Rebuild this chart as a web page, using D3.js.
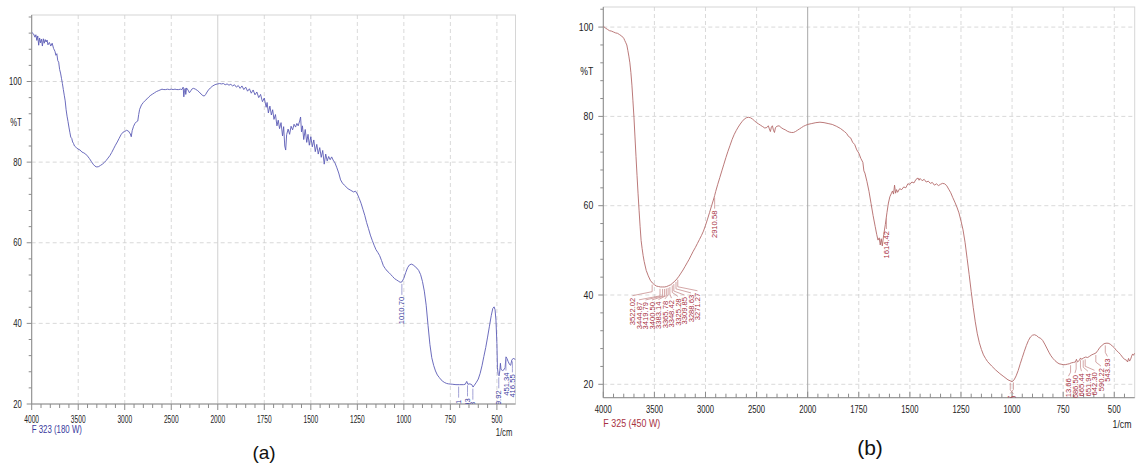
<!DOCTYPE html>
<html>
<head>
<meta charset="utf-8">
<script src="https://cdn.jsdelivr.net/npm/d3@7"></script>
<style>
  body { margin: 0; background: #fff; }
  svg { display: block; }
  text { font-family: "Liberation Sans", Arial, sans-serif; }
</style>
</head>
<body>
<svg id="chart" width="1136" height="468"></svg>
<script>
// Axis ticks shared by both spectra (wavenumber axis is split at 2000 1/cm)
const xTicks = [4000, 3500, 3000, 2500, 2000, 1750, 1500, 1250, 1000, 750, 500];
const yTicks = [20, 40, 60, 80, 100];

// Spectrum (a): [wavenumber, %T]
const spectrumA = [
    [4000, 112.2], [3980, 111.8], [3965, 111.0], [3955, 111.6], [3945, 110.2], [3935, 111.3],
    [3925, 109.0], [3915, 110.8], [3905, 109.6], [3895, 110.5], [3885, 108.8], [3875, 110.6],
    [3865, 109.5], [3855, 110.4], [3845, 109.8], [3835, 110.3], [3825, 109.1], [3810, 109.7],
    [3795, 108.8], [3780, 109.5], [3765, 108.2], [3750, 107.5], [3740, 106.5], [3730, 106.9],
    [3720, 105.2], [3710, 104.8], [3700, 103.0], [3690, 102.1], [3680, 100.8], [3670, 99.5],
    [3660, 98.0], [3650, 96.6], [3640, 95.2], [3630, 93.0], [3620, 91.4], [3610, 90.1],
    [3600, 88.7], [3590, 87.4], [3580, 86.2], [3570, 85.9], [3560, 85.0], [3550, 84.6],
    [3540, 84.0], [3520, 83.6], [3500, 83.2], [3480, 83.0], [3460, 82.5], [3440, 82.3],
    [3420, 82.0], [3400, 81.5], [3380, 80.9], [3360, 80.2], [3340, 79.5], [3320, 79.0],
    [3300, 78.8], [3280, 78.9], [3260, 79.2], [3240, 79.5], [3220, 79.9], [3200, 80.4],
    [3180, 81.0], [3160, 81.6], [3140, 82.4], [3120, 83.3], [3100, 84.2], [3080, 85.0],
    [3060, 85.9], [3040, 86.8], [3020, 87.4], [3000, 87.6], [2980, 87.9], [2960, 87.7],
    [2940, 87.0], [2930, 86.3], [2920, 87.8], [2905, 88.9], [2890, 89.6], [2875, 90.0],
    [2860, 90.2], [2850, 91.8], [2840, 93.1], [2820, 94.2], [2800, 94.8], [2780, 95.3],
    [2760, 95.7], [2740, 96.2], [2720, 96.6], [2700, 96.9], [2680, 97.2], [2660, 97.5],
    [2640, 97.7], [2620, 97.9], [2600, 98.1], [2580, 98.0], [2560, 98.0], [2540, 98.1],
    [2520, 98.0], [2500, 98.1], [2480, 98.0], [2460, 98.1], [2440, 98.0], [2420, 98.0],
    [2400, 98.1], [2385, 98.0], [2372, 98.6], [2365, 96.2], [2358, 97.8], [2350, 98.3],
    [2344, 96.8], [2336, 98.4], [2320, 97.9], [2305, 97.2], [2290, 97.7], [2275, 98.2],
    [2260, 98.3], [2240, 98.1], [2220, 97.8], [2200, 97.4], [2180, 96.9], [2160, 96.5],
    [2145, 96.4], [2130, 96.8], [2115, 97.4], [2100, 97.9], [2080, 98.4], [2060, 98.8],
    [2040, 99.1], [2020, 99.3], [2000, 99.4], [1990, 99.5], [1980, 99.4], [1970, 99.5],
    [1960, 99.2], [1950, 99.4], [1940, 99.1], [1930, 99.3], [1920, 98.9], [1910, 99.2],
    [1900, 98.6], [1890, 99.0], [1880, 98.3], [1870, 98.9], [1860, 98.0], [1850, 98.6],
    [1840, 97.6], [1830, 98.2], [1820, 97.1], [1810, 97.9], [1800, 96.7], [1790, 97.4],
    [1780, 96.0], [1770, 96.8], [1760, 95.0], [1750, 95.9], [1740, 93.6], [1735, 94.8],
    [1728, 92.2], [1720, 93.9], [1712, 91.7], [1705, 93.0], [1698, 90.6], [1690, 91.8],
    [1682, 89.0], [1675, 90.4], [1668, 88.3], [1660, 89.8], [1652, 86.5], [1646, 88.8],
    [1640, 84.0], [1635, 83.0], [1630, 86.8], [1622, 88.2], [1614, 86.9], [1606, 88.9],
    [1598, 88.0], [1590, 89.4], [1582, 88.7], [1575, 89.6], [1568, 89.0], [1560, 90.2],
    [1555, 91.2], [1550, 87.5], [1545, 89.0], [1538, 85.6], [1530, 88.1], [1522, 84.9],
    [1515, 86.9], [1508, 84.2], [1500, 86.3], [1492, 83.8], [1484, 85.5], [1476, 82.6],
    [1468, 84.4], [1460, 82.0], [1452, 83.6], [1444, 81.2], [1436, 82.9], [1428, 79.5],
    [1420, 82.0], [1412, 80.3], [1404, 81.4], [1396, 80.6], [1388, 81.3], [1380, 80.5],
    [1370, 79.8], [1360, 78.6], [1350, 77.3], [1340, 75.6], [1330, 74.8], [1320, 74.3],
    [1300, 73.4], [1285, 73.0], [1270, 72.6], [1260, 72.8], [1250, 72.1], [1240, 71.0],
    [1230, 69.8], [1220, 68.3], [1210, 66.8], [1200, 65.0], [1190, 63.5], [1180, 61.9],
    [1170, 60.6], [1160, 59.4], [1150, 58.3], [1140, 57.6], [1130, 56.8], [1120, 55.6],
    [1110, 54.3], [1100, 53.6], [1090, 53.0], [1080, 52.6], [1070, 52.1], [1060, 51.6],
    [1050, 51.1], [1040, 50.8], [1030, 50.5], [1020, 50.2], [1010, 50.3], [1000, 51.2],
    [990, 52.6], [980, 53.8], [970, 54.5], [960, 54.7], [950, 54.5], [940, 54.1],
    [930, 53.7], [920, 53.1], [910, 52.1], [900, 50.4], [890, 48.0], [880, 44.5],
    [870, 39.5], [860, 34.8], [850, 31.5], [840, 29.6], [830, 28.2], [820, 27.2],
    [810, 26.6], [800, 26.0], [790, 25.6], [780, 25.3], [770, 25.1], [760, 25.0],
    [740, 24.9], [720, 24.8], [700, 24.8], [680, 24.8], [670, 24.9], [662, 25.6],
    [656, 24.9], [645, 25.0], [635, 24.8], [628, 24.2], [622, 24.6], [610, 25.4],
    [600, 26.2], [590, 27.6], [580, 29.5], [570, 31.8], [560, 34.0], [550, 36.6],
    [540, 39.3], [530, 42.0], [522, 43.7], [515, 44.1], [510, 43.4], [505, 40.8],
    [500, 35.0], [497, 29.0], [493, 27.3], [488, 27.0], [484, 28.4], [481, 30.1],
    [478, 28.6], [470, 28.3], [462, 28.5], [456, 29.0], [451, 31.7], [446, 31.3],
    [440, 30.6], [432, 29.8], [426, 29.6], [420, 30.9], [410, 31.4], [400, 30.9]
];

// Spectrum (b): [wavenumber, %T]
const spectrumB = [
    [4000, 100.2], [3980, 99.8], [3960, 99.5], [3940, 99.2], [3920, 99.1], [3900, 98.9],
    [3880, 98.7], [3860, 98.6], [3840, 98.3], [3820, 98.0], [3800, 97.5], [3790, 97.0],
    [3780, 96.5], [3770, 96.0], [3760, 94.8], [3750, 93.5], [3740, 92.0], [3730, 89.8],
    [3720, 87.0], [3710, 83.5], [3700, 79.8], [3690, 75.4], [3680, 71.0], [3670, 66.8],
    [3660, 62.8], [3650, 59.0], [3640, 55.4], [3630, 52.2], [3620, 50.4], [3610, 48.8],
    [3600, 47.5], [3590, 46.5], [3580, 45.5], [3560, 44.3], [3540, 43.3], [3520, 42.7],
    [3500, 42.3], [3480, 42.0], [3460, 41.9], [3440, 41.8], [3420, 41.8], [3400, 41.8],
    [3380, 41.9], [3360, 42.1], [3340, 42.3], [3320, 42.7], [3300, 43.1], [3280, 43.6],
    [3260, 44.2], [3240, 44.9], [3220, 45.6], [3200, 46.4], [3180, 47.2], [3160, 48.0],
    [3140, 48.9], [3120, 49.8], [3100, 50.6], [3080, 51.5], [3060, 52.4], [3040, 53.3],
    [3020, 54.3], [3000, 55.6], [2980, 57.0], [2960, 58.5], [2940, 60.0], [2920, 61.5],
    [2910, 62.3], [2900, 63.2], [2880, 64.8], [2860, 66.3], [2840, 67.8], [2820, 69.3],
    [2800, 70.8], [2780, 72.2], [2760, 73.5], [2740, 74.8], [2720, 75.9], [2700, 76.8],
    [2680, 77.6], [2660, 78.3], [2640, 78.9], [2620, 79.4], [2600, 79.7], [2580, 79.8],
    [2560, 79.7], [2540, 79.4], [2520, 79.0], [2500, 78.6], [2480, 78.3], [2460, 78.0],
    [2440, 77.7], [2420, 77.4], [2400, 77.5], [2385, 77.9], [2375, 77.2], [2365, 76.6],
    [2355, 77.6], [2345, 77.9], [2335, 76.9], [2325, 76.4], [2315, 77.5], [2300, 77.8],
    [2280, 77.9], [2260, 77.5], [2240, 77.2], [2220, 77.0], [2200, 76.7], [2180, 76.5],
    [2160, 76.4], [2140, 76.4], [2120, 76.6], [2100, 76.9], [2080, 77.2], [2060, 77.5],
    [2040, 77.8], [2020, 78.0], [2000, 78.2], [1980, 78.4], [1960, 78.6], [1940, 78.7],
    [1920, 78.6], [1900, 78.4], [1880, 78.2], [1860, 77.8], [1840, 77.3], [1820, 76.6],
    [1810, 76.2], [1800, 75.5], [1790, 75.2], [1780, 74.2], [1770, 73.7], [1760, 72.5],
    [1750, 71.8], [1740, 70.6], [1730, 69.7], [1725, 67.8], [1720, 67.3], [1710, 65.4],
    [1700, 63.2], [1690, 60.5], [1680, 57.8], [1670, 55.4], [1662, 53.5], [1656, 52.3],
    [1650, 52.8], [1645, 51.2], [1640, 52.6], [1635, 51.0], [1628, 53.5], [1620, 55.8],
    [1612, 58.5], [1605, 60.6], [1598, 62.0], [1590, 62.8], [1585, 63.3], [1580, 62.6],
    [1575, 64.6], [1570, 62.8], [1565, 63.6], [1560, 63.0], [1550, 63.8], [1540, 63.6],
    [1530, 64.2], [1520, 64.0], [1510, 64.9], [1500, 64.8], [1490, 65.3], [1480, 65.1],
    [1470, 65.9], [1460, 66.2], [1455, 65.7], [1450, 66.1], [1440, 65.6], [1430, 65.9],
    [1420, 65.3], [1410, 65.5], [1400, 65.0], [1390, 65.2], [1380, 64.6], [1370, 64.9],
    [1360, 64.5], [1350, 64.8], [1340, 65.0], [1330, 64.9], [1320, 64.5], [1310, 63.7],
    [1300, 62.9], [1290, 61.8], [1280, 60.8], [1270, 59.7], [1260, 58.4], [1250, 56.6],
    [1240, 54.6], [1230, 51.8], [1220, 48.2], [1210, 44.6], [1200, 40.8], [1190, 37.2],
    [1180, 34.0], [1170, 31.3], [1160, 29.3], [1150, 27.8], [1140, 26.6], [1130, 25.8],
    [1120, 25.1], [1100, 24.1], [1080, 23.2], [1060, 22.4], [1040, 21.7], [1020, 21.0],
    [1000, 20.6], [990, 21.0], [980, 21.9], [970, 23.1], [960, 24.6], [950, 26.0],
    [940, 27.4], [930, 28.7], [920, 29.8], [910, 30.6], [900, 31.0], [890, 31.1],
    [880, 30.9], [870, 30.5], [860, 30.3], [850, 29.8], [840, 29.0], [830, 28.1],
    [820, 27.2], [810, 26.4], [800, 25.8], [790, 25.3], [780, 24.9], [770, 24.6],
    [760, 24.5], [750, 24.4], [740, 24.4], [730, 24.5], [720, 24.6], [710, 24.8],
    [700, 24.9], [690, 25.0], [685, 25.6], [680, 25.0], [670, 25.4], [665, 25.9],
    [660, 25.6], [650, 25.9], [640, 26.1], [630, 26.0], [620, 26.3], [610, 26.6],
    [600, 26.8], [590, 27.0], [580, 27.6], [570, 28.3], [560, 28.7], [550, 29.1],
    [540, 29.2], [530, 29.2], [520, 29.0], [510, 28.6], [500, 28.2], [490, 27.6],
    [480, 27.2], [470, 26.7], [460, 26.1], [450, 25.6], [440, 25.4], [435, 25.0],
    [430, 25.8], [425, 25.2], [420, 25.6], [415, 26.3], [410, 26.8], [405, 26.5],
    [400, 27.0]
];

// Peak picks: [wavenumber, printed label]
const peaksA = [[1010.70, "1010.70"]];
const peaksALow = [[705.61, "705.61"], [657.93, "657.93"], [629.18, "629.18"],
                   [489.92, "489.92"], [451.34, "451.34"], [416.55, "416.55"]];
const peaksBOH = [[3522.02, "3522.02"], [3444.87, "3444.87"], [3419.79, "3419.79"],
                  [3400.50, "3400.50"], [3383.14, "3383.14"], [3365.78, "3365.78"],
                  [3348.42, "3348.42"], [3325.28, "3325.28"], [3309.85, "3309.85"],
                  [3288.63, "3288.63"], [3271.27, "3271.27"]];
const peaksB = [[2910.58, "2910.58"], [1614.42, "1614.42"]];
const peaksBMin = [[1008.80, "1008.80"], [993.37, "993.37"]];
const peaksBLow = [[713.66, "713.66"], [686.50, "686.50"], [665.44, "665.44"],
                   [651.94, "651.94"], [642.30, "642.30"], [590.22, "590.22"],
                   [543.93, "543.93"]];

const panels = [
    {
        id: "a", spectrum: spectrumA, left: 31.7, right: 515.5, top: 15, bottom: 404,
        yDomain: [20, 116.5], line: "#5b5bb6", ink: "#3a3a9e", lead: "#8a8acc",
        tickDown: true, squeeze: 0.63, labelDy: 18.5,
        sample: "F 323 (180 W)", sampleY: 432.5, unitX: 504, unitY: 435.5,
        caption: "(a)", captionX: 264, captionY: 459, captionSize: 19,
        peakSets: [{ list: peaksA }, { list: peaksALow }],
        solid2000: "#d0d0d0"
    },
    {
        id: "b", spectrum: spectrumB, left: 603.3, right: 1134.7, top: 7, bottom: 397.7,
        yDomain: [17, 104.5], line: "#b36a6a", ink: "#a8323f", lead: "#c99090",
        tickDown: false, squeeze: 0.73, labelDy: 15.3,
        sample: "F 325 (450 W)", sampleY: 427, unitX: 1122, unitY: 427.5,
        caption: "(b)", captionX: 870, captionY: 455, captionSize: 21,
        peakSets: [{ list: peaksBOH, spread: 6.5 }, { list: peaksB },
                   { list: peaksBMin, cross: true }, { list: peaksBLow, spread: 6.5 }],
        solid2000: "#a8a8a8"
    }
];

const svg = d3.select("#chart");

// linear interpolation of %T at a wavenumber (spectrum runs high -> low)
function valueAt(spec, wn) {
    for (let i = 1; i < spec.length; i++) {
        const [w0, t0] = spec[i - 1], [w1, t1] = spec[i];
        if (wn <= w0 && wn >= w1) return t0 + (t1 - t0) * (w0 - wn) / (w0 - w1);
    }
    return spec[spec.length - 1][1];
}

function squeezedText(g, x, y, sx, str) {
    return g.append("text")
        .attr("transform", `translate(${x},${y}) scale(${sx},1)`)
        .text(str);
}

function drawPanel(p) {
    const x = d3.scaleLinear()
        .domain([4000, 2000, 400])
        .range([p.left, p.left + (p.right - p.left) * 4 / 10.4, p.right]);
    const y = d3.scaleLinear().domain(p.yDomain).range([p.bottom, p.top]);

    const g = svg.append("g").attr("class", "panel-" + p.id);
    const clipId = "clip-" + p.id;
    g.append("clipPath").attr("id", clipId).append("rect")
        .attr("x", p.left).attr("y", p.top)
        .attr("width", p.right - p.left).attr("height", p.bottom - p.top);

    // frame
    g.append("rect")
        .attr("x", p.left).attr("y", p.top)
        .attr("width", p.right - p.left).attr("height", p.bottom - p.top)
        .attr("fill", "none").attr("stroke", "#d6d6d6").attr("stroke-width", 1);

    // dashed grid
    g.selectAll("line.gh").data(yTicks.filter(v => y(v) < p.bottom - 1)).join("line")
        .attr("class", "gh")
        .attr("x1", p.left).attr("x2", p.right)
        .attr("y1", d => y(d)).attr("y2", d => y(d))
        .attr("stroke", "#cfcfcf").attr("stroke-dasharray", "4,3").attr("stroke-width", 0.8);
    g.selectAll("line.gv").data(xTicks.filter(v => v !== 4000 && v !== 2000)).join("line")
        .attr("class", "gv")
        .attr("x1", d => x(d)).attr("x2", d => x(d))
        .attr("y1", p.top).attr("y2", p.bottom)
        .attr("stroke", "#cfcfcf").attr("stroke-dasharray", "4,3").attr("stroke-width", 0.8);
    g.append("line")
        .attr("x1", x(2000)).attr("x2", x(2000))
        .attr("y1", p.top).attr("y2", p.bottom)
        .attr("stroke", p.solid2000).attr("stroke-width", 1);

    // axis lines
    g.append("line").attr("x1", p.left).attr("x2", p.left).attr("y1", p.top).attr("y2", p.bottom)
        .attr("stroke", "#8c8c8c");
    g.append("line").attr("x1", p.left).attr("x2", p.right).attr("y1", p.bottom).attr("y2", p.bottom)
        .attr("stroke", "#8c8c8c");

    // y ticks (minor every 4 %T)
    const yMinor = d3.range(Math.ceil(p.yDomain[0] / 4) * 4, p.yDomain[1], 4);
    g.selectAll("line.yt").data(yMinor).join("line")
        .attr("class", "yt")
        .attr("x1", d => p.left - (yTicks.includes(d) ? 5 : 3)).attr("x2", p.left)
        .attr("y1", d => y(d)).attr("y2", d => y(d))
        .attr("stroke", "#8c8c8c");

    // x ticks (minor every 100 above 2000, every 50 below)
    const xMinor = d3.range(4000, 2000, -100).concat(d3.range(2000, 400, -50));
    const dir = p.tickDown ? 1 : -1;
    g.selectAll("line.xt").data(xMinor).join("line")
        .attr("class", "xt")
        .attr("x1", d => x(d)).attr("x2", d => x(d))
        .attr("y1", p.bottom)
        .attr("y2", d => p.bottom + dir * (xTicks.includes(d) ? 6 : 4))
        .attr("stroke", "#8c8c8c");

    // tick labels
    const lab = g.append("g").attr("font-size", 10.5).attr("fill", "#222");
    yTicks.forEach(v => {
        squeezedText(lab, p.left - 10, y(v) + 3.7, p.squeeze + 0.1, v).attr("text-anchor", "end");
    });
    squeezedText(lab, p.left - 10, y(90) + 3.7, p.squeeze + 0.1, "%T").attr("text-anchor", "end");
    xTicks.forEach(v => {
        squeezedText(lab, x(v), p.bottom + p.labelDy, p.squeeze, v).attr("text-anchor", "middle");
    });
    squeezedText(lab, p.unitX, p.unitY, p.squeeze + 0.1, "1/cm").attr("text-anchor", "middle");
    squeezedText(g, p.left, p.sampleY, p.squeeze + 0.12, p.sample)
        .attr("font-size", 10.5).attr("fill", p.ink);

    g.append("text")
        .attr("x", p.captionX).attr("y", p.captionY)
        .attr("text-anchor", "middle")
        .attr("font-size", p.captionSize).attr("fill", "#111")
        .text(p.caption);

    // spectrum
    const line = d3.line().x(d => x(d[0])).y(d => y(d[1]));
    g.append("path").datum(p.spectrum)
        .attr("clip-path", `url(#${clipId})`)
        .attr("fill", "none").attr("stroke", p.line)
        .attr("stroke-width", 0.9).attr("stroke-linejoin", "round")
        .attr("d", line);

    // peak labels
    const pk = g.append("g").attr("clip-path", `url(#${clipId})`);
    p.peakSets.forEach(set => {
        const xs = set.list.map(d => x(d[0]));
        let lx = xs;
        if (set.spread) {
            const mid = (d3.min(xs) + d3.max(xs)) / 2;
            const half = (set.list.length - 1) * set.spread / 2;
            const ps = d3.scalePoint().domain(set.list.map(d => d[1])).range([mid - half, mid + half]);
            lx = set.list.map(d => ps(d[1]));
        }
        if (set.cross) lx = xs.slice().reverse();
        set.list.forEach((d, i) => {
            const cy = y(valueAt(p.spectrum, d[0]));
            const pts = [[xs[i], cy + 2], [xs[i], cy + 9], [lx[i], cy + 13]];
            pk.append("polyline")
                .attr("points", pts.map(q => q.join(",")).join(" "))
                .attr("fill", "none").attr("stroke", p.lead).attr("stroke-width", 0.8);
            pk.append("text")
                .attr("transform", `translate(${lx[i] + 2.6},${cy + 15}) rotate(-90)`)
                .attr("text-anchor", "end")
                .attr("font-size", 7.6).attr("fill", p.ink)
                .text(d[1]);
        });
    });
}

panels.forEach(drawPanel);
</script>
</body>
</html>
